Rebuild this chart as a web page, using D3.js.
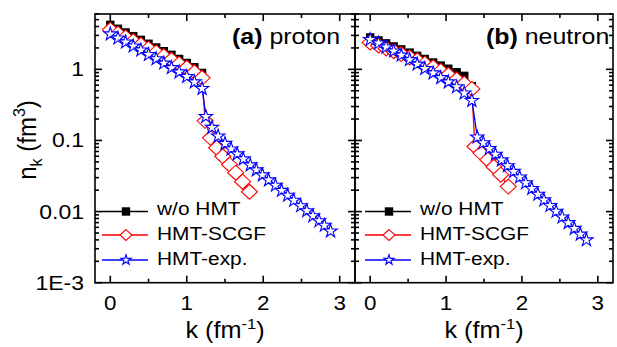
<!DOCTYPE html>
<html>
<head>
<meta charset="utf-8">
<script src="https://cdn.jsdelivr.net/npm/d3@7"></script>
<style>
body { margin: 0; background: #fff; }
text { font-family: "Liberation Sans", Arial, sans-serif; fill: #000; }
</style>
</head>
<body>
<script>
// ---- data ----
// (a) proton
var kLowP = [0, 0.1, 0.2, 0.3, 0.4, 0.5, 0.6, 0.7, 0.8, 0.9, 1.0, 1.1, 1.2];
var nWoP = [4.22, 3.72, 3.30, 2.93, 2.60, 2.29, 2.03, 1.80, 1.60, 1.40, 1.23, 1.07, 0.89];
var nScgfLowP = [3.59, 3.17, 2.81, 2.49, 2.21, 1.95, 1.73, 1.53, 1.36, 1.19, 1.05, 0.91, 0.76];
var nExpLowP = [3.22, 2.81, 2.47, 2.17, 1.91, 1.65, 1.44, 1.25, 1.08, 0.94, 0.81, 0.68, 0.55];
var kScgfHighP = [1.24, 1.31, 1.39, 1.47, 1.56, 1.64, 1.73, 1.82];
var nScgfHighP = [0.189, 0.109, 0.079, 0.060, 0.0456, 0.0352, 0.0263, 0.0190];
var kExpHighP = [1.25, 1.33, 1.41, 1.50, 1.58, 1.66, 1.74, 1.83, 1.91, 1.99, 2.07, 2.16, 2.24, 2.32, 2.40, 2.49, 2.57, 2.65, 2.73, 2.80, 2.88];
var nExpHighP = [0.222, 0.156, 0.118, 0.0929, 0.0776, 0.0661, 0.0562, 0.0463, 0.0394, 0.0335, 0.0285, 0.0239, 0.0203, 0.0173, 0.0147, 0.0123, 0.0105, 0.0089, 0.00757, 0.00655, 0.00545];

// (b) neutron
var kLowN = [0, 0.11, 0.21, 0.31, 0.41, 0.52, 0.62, 0.72, 0.83, 0.93, 1.03, 1.14, 1.24, 1.34];
var nWoN = [2.81, 2.55, 2.32, 2.10, 1.91, 1.72, 1.55, 1.40, 1.25, 1.13, 1.02, 0.91, 0.81, 0.58];
var nScgfLowN = [2.39, 2.17, 1.97, 1.80, 1.64, 1.47, 1.34, 1.20, 1.07, 0.95, 0.84, 0.72, 0.63, 0.53];
var nExpLowN = [2.68, 2.39, 2.10, 1.85, 1.62, 1.40, 1.21, 1.05, 0.91, 0.78, 0.68, 0.58, 0.475, 0.373];
var kScgfHighN = [1.38, 1.46, 1.55, 1.63, 1.72, 1.82];
var nScgfHighN = [0.0823, 0.0665, 0.0536, 0.0427, 0.0330, 0.0225];
var kExpHighN = [1.41, 1.49, 1.57, 1.65, 1.73, 1.81, 1.89, 1.97, 2.05, 2.13, 2.21, 2.29, 2.37, 2.45, 2.53, 2.61, 2.69, 2.77, 2.85];
var nExpHighN = [0.114, 0.0947, 0.0787, 0.0654, 0.0544, 0.0451, 0.0375, 0.0312, 0.0259, 0.0216, 0.0179, 0.0149, 0.0124, 0.0103, 0.00857, 0.00713, 0.00592, 0.00492, 0.00409];

var seriesNames = ["w/o HMT", "HMT-SCGF", "HMT-exp."];
var xMajor = [0, 1, 2, 3];
var xMinor = [0.5, 1.5, 2.5];
var yMajor = [1e-3, 1e-2, 0.1, 1];
var yLabels = ["1E-3", "0.01", "0.1", "1"];

function zip(k, n) { return k.map(function(d, i) { return {k: d, n: n[i]}; }); }

var W = 617, H = 347;
var plotTop = 14, plotBottom = 282.7;

var svg = d3.select("body").append("svg").attr("width", W).attr("height", H);

var y = d3.scaleLog().domain([1e-3, 6]).range([plotBottom, plotTop]);

var yMinor = [];
[1e-3, 1e-2, 0.1, 1].forEach(function(dec) {
    for (var m = 2; m <= 9; m++) { if (dec * m <= 6) yMinor.push(dec * m); }
});

// stretched text, the original type is wider than plain Arial
function stext(g, x, yy, sx, fs, anchor) {
    return g.append("text")
        .attr("transform", "translate(" + x + "," + yy + ") scale(" + sx + ",1)")
        .attr("font-size", fs)
        .attr("text-anchor", anchor || "start");
}

function squarePath(s) { return "M" + (-s) + "," + (-s) + "H" + s + "V" + s + "H" + (-s) + "Z"; }
function diamondPath(w, h) { return "M0," + (-h) + "L" + w + ",0L0," + h + "L" + (-w) + ",0Z"; }
var starBig = d3.symbol().type(d3.symbolStar).size(55)();
var starSmall = d3.symbol().type(d3.symbolStar).size(32)();

var panels = [
    {x0: 95, x1: 355, tag: "(a)", name: " proton", tagX: 232, legX: 102, yTicks: true,
     wo: zip(kLowP, nWoP),
     scgf: zip(kLowP, nScgfLowP).concat(zip(kScgfHighP, nScgfHighP)),
     exp: zip(kLowP, nExpLowP).concat(zip(kExpHighP, nExpHighP))},
    {x0: 355, x1: 613, tag: "(b)", name: " neutron", tagX: 486, legX: 365, yTicks: false,
     wo: zip(kLowN, nWoN),
     scgf: zip(kLowN, nScgfLowN).concat(zip(kScgfHighN, nScgfHighN)),
     exp: zip(kLowN, nExpLowN).concat(zip(kExpHighN, nExpHighN))}
];

panels.forEach(function(p) {
    var x = d3.scaleLinear().domain([-0.2, 3.2]).range([p.x0, p.x1]);
    var g = svg.append("g");

    var line = d3.line().x(function(d) { return x(d.k); }).y(function(d) { return y(d.n); });

    // w/o HMT
    g.append("path").datum(p.wo).attr("d", line)
        .attr("fill", "none").attr("stroke", "#000").attr("stroke-width", 1.3);
    g.selectAll(".sq").data(p.wo).enter().append("path")
        .attr("transform", function(d) { return "translate(" + x(d.k) + "," + y(d.n) + ")"; })
        .attr("d", squarePath(4.2)).attr("fill", "#000");

    // HMT-SCGF
    g.append("path").datum(p.scgf).attr("d", line)
        .attr("fill", "none").attr("stroke", "#ff0000").attr("stroke-width", 1.3);
    g.selectAll(".dm").data(p.scgf).enter().append("path")
        .attr("transform", function(d) { return "translate(" + x(d.k) + "," + y(d.n) + ")"; })
        .attr("d", diamondPath(8, 7.5)).attr("fill", "#fff")
        .attr("stroke", "#ff0000").attr("stroke-width", 1.1);

    // HMT-exp.
    g.append("path").datum(p.exp).attr("d", line)
        .attr("fill", "none").attr("stroke", "#0000ff").attr("stroke-width", 1.3);
    g.selectAll(".st").data(p.exp).enter().append("path")
        .attr("transform", function(d) { return "translate(" + x(d.k) + "," + (y(d.n) + 0.8) + ")"; })
        .attr("d", starBig).attr("fill", "#fff")
        .attr("stroke", "#0000ff").attr("stroke-width", 1.1);

    // frame + ticks
    var ax = svg.append("g").attr("stroke", "#000").attr("stroke-width", 1.6);
    ax.append("rect").attr("x", p.x0).attr("y", plotTop)
        .attr("width", p.x1 - p.x0).attr("height", plotBottom - plotTop).attr("fill", "none");

    function xt(vals, len) {
        vals.forEach(function(v) {
            ax.append("line").attr("x1", x(v)).attr("x2", x(v)).attr("y1", plotBottom).attr("y2", plotBottom - len);
            ax.append("line").attr("x1", x(v)).attr("x2", x(v)).attr("y1", plotTop).attr("y2", plotTop + len);
        });
    }
    xt(xMajor, 7);
    xt(xMinor, 4);

    function yt(vals, len) {
        vals.forEach(function(v) {
            ax.append("line").attr("x1", p.x0).attr("x2", p.x0 + len).attr("y1", y(v)).attr("y2", y(v));
            ax.append("line").attr("x1", p.x1).attr("x2", p.x1 - len).attr("y1", y(v)).attr("y2", y(v));
        });
    }
    yt(yMajor, 7);
    yt(yMinor, 4);

    // x tick labels
    xMajor.forEach(function(v) {
        stext(svg, x(v), 310, 1.12, 20, "middle").text(v);
    });

    // y tick labels
    if (p.yTicks) {
        yMajor.forEach(function(v, i) {
            stext(svg, 84, y(v) + 7, 1.15, 20, "end").text(yLabels[i]);
        });
    }

    // x axis title
    var xl = stext(svg, (p.x0 + p.x1) / 2, 338, 1.1, 23, "middle");
    xl.append("tspan").text("k (fm");
    xl.append("tspan").attr("font-size", 15).attr("dy", -9).text("-1");
    xl.append("tspan").attr("dy", 9).text(")");

    // panel tag
    var pt = stext(svg, p.tagX, 44, 1.16, 21.5, "start");
    pt.append("tspan").attr("font-weight", "bold").text(p.tag);
    pt.append("tspan").text(p.name);

    // legend
    var rowsY = [211.5, 235, 260];
    var textY = [215, 240, 265];
    var lx = p.legX;
    var mx = lx + 24;
    var lg = svg.append("g");
    var colors = ["#000", "#ff0000", "#0000ff"];
    rowsY.forEach(function(ry, i) {
        lg.append("line").attr("x1", lx).attr("x2", lx + 46).attr("y1", ry).attr("y2", ry)
            .attr("stroke", colors[i]).attr("stroke-width", 1.3);
        var m = lg.append("path").attr("transform", "translate(" + mx + "," + ry + ")");
        if (i === 0) m.attr("d", squarePath(4.2)).attr("fill", "#000");
        if (i === 1) m.attr("d", diamondPath(6, 5.4)).attr("fill", "#fff").attr("stroke", "#ff0000").attr("stroke-width", 1.1);
        if (i === 2) m.attr("d", starSmall).attr("fill", "#fff").attr("stroke", "#0000ff").attr("stroke-width", 1.1);
        stext(lg, lx + 55, textY[i], 1.13, 18.5, "start").text(seriesNames[i]);
    });
});

// y axis title
var yl = svg.append("text")
    .attr("transform", "translate(35.5,140) scale(1.08,1) rotate(-90)")
    .attr("font-size", 24).attr("text-anchor", "middle");
yl.append("tspan").text("n");
yl.append("tspan").attr("font-size", 16).attr("dy", 6).text("k");
yl.append("tspan").attr("dy", -6).text(" (fm");
yl.append("tspan").attr("font-size", 16).attr("dy", -10).text("3");
yl.append("tspan").attr("dy", 10).text(")");
</script>
</body>
</html>
